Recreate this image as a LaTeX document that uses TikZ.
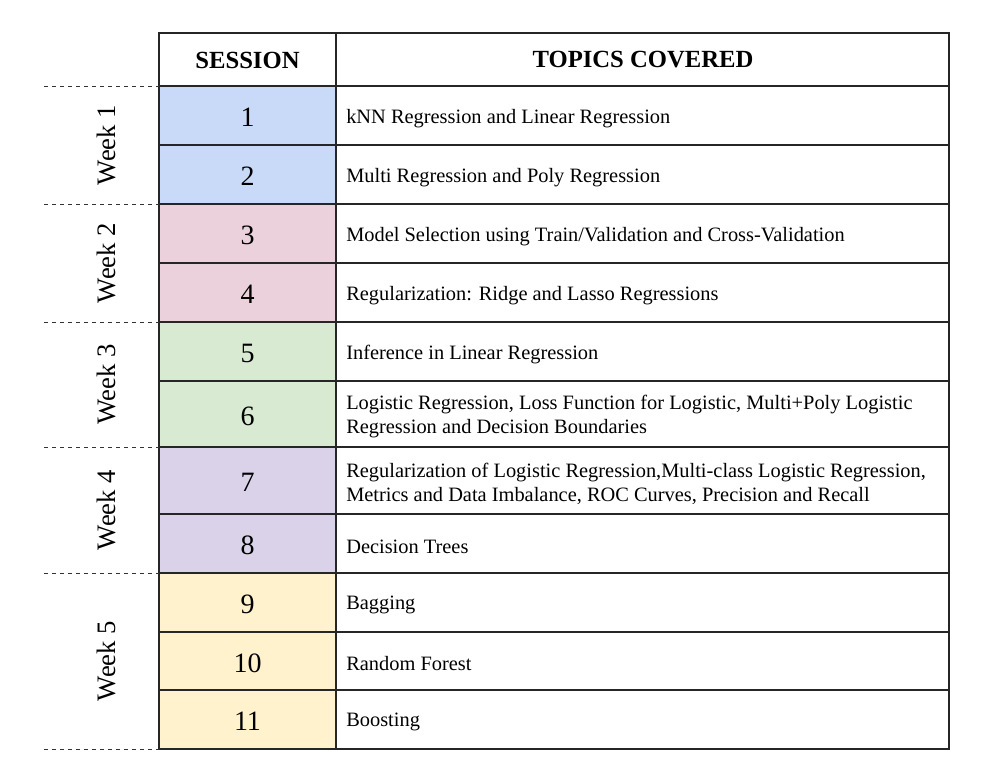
\documentclass[tikz,border=0pt]{standalone}
\usepackage{fontspec}
\setmainfont{Liberation Serif}
\usetikzlibrary{positioning}
\definecolor{wkone}{HTML}{C9DAF8}
\definecolor{wktwo}{HTML}{EAD1DC}
\definecolor{wkthree}{HTML}{D9EAD3}
\definecolor{wkfour}{HTML}{D9D2E9}
\definecolor{wkfive}{HTML}{FFF2CC}
\begin{document}
\begin{tikzpicture}[x=0.75pt,y=-0.75pt,
 grid/.style={draw=black!85,line width=0.8pt},
 sep/.style={dashed,line width=0.6pt,black!80},
 head/.style={font=\fontsize{18.5}{20}\selectfont\bfseries},
 num/.style={yshift=-1.5pt,font=\fontsize{21}{22}\selectfont},
 topic/.style={anchor=west,align=left,inner sep=0pt,yshift=-2.2pt,font=\fontsize{15.3}{18}\selectfont},
 week/.style={rotate=90,font=\fontsize{20}{22}\selectfont}]
\useasboundingbox(0,0)rectangle(988,763);
% session cells and topics
\foreach \n/\t/\b/\c/\txt in {
 1/86/145/wkone/{kNN Regression and Linear Regression},
 2/145/204/wkone/{Multi Regression and Poly Regression},
 3/204/263/wktwo/{Model Selection using Train/Validation and Cross-Validation},
 4/263/322/wktwo/{Regularization: Ridge and Lasso Regressions},
 5/322/381/wkthree/{Inference in Linear Regression},
 6/381/447/wkthree/{Logistic Regression, Loss Function for Logistic, Multi+Poly Logistic\\Regression and Decision Boundaries},
 7/447/514/wkfour/{Regularization of Logistic Regression,Multi-class Logistic Regression,\\Metrics and Data Imbalance, ROC Curves, Precision and Recall},
 8/514/573/wkfour/{Decision Trees},
 9/573/632/wkfive/{Bagging},
 10/632/690/wkfive/{Random Forest},
 11/690/749/wkfive/{Boosting}}{
 \filldraw[grid,fill=\c](159,\t)rectangle(336,\b);
 \draw[grid](336,\t)rectangle(949,\b);
 \node[num](s\n)at(247.5,{(\t+\b)/2}){\n};
 \node[topic](t\n)at(346,{(\t+\b)/2}){\txt};
}
% header
\draw[grid](159,33)rectangle(336,86);
\draw[grid](336,33)rectangle(949,86);
\node[head](hs)at(247.5,60){SESSION};
\node[head](ht)at(643,60){TOPICS COVERED};
% weeks
\foreach \y in {86,204,322,447,573,749}
 \draw[sep](44,\y)--(159,\y);
\node[week](w1)at(106,145){Week 1};
\node[week](w2)at(106,263){Week 2};
\node[week](w3)at(106,384.5){Week 3};
\node[week](w4)at(106,510){Week 4};
\node[week](w5)at(106,661){Week 5};
\end{tikzpicture}
\end{document}
